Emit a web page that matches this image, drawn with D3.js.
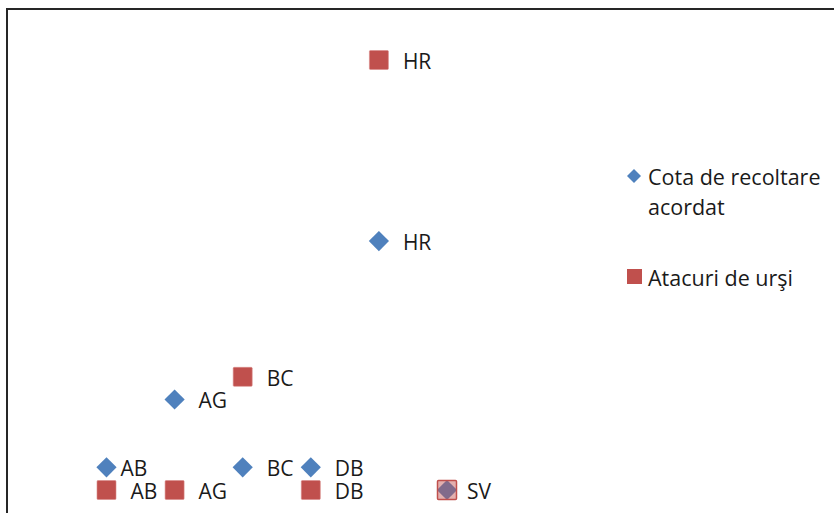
<!DOCTYPE html>
<html>
<head>
<meta charset="utf-8">
<title>Cota de recoltare / Atacuri de urşi</title>
<script src="https://d3js.org/d3.v7.min.js"></script>
<style>
  body { margin: 0; background: #fff; }
  text { font-family: "Open Sans", "Noto Sans", sans-serif; fill: #1a1a1a; }
</style>
</head>
<body>
<script>
// judete (categorii pe axa x, 1..6)
const counties = ["AB", "AG", "BC", "DB", "HR", "SV"];
// valori (unitati relative)
const cotaRecoltare = [1, 4, 1, 1, 11, 0];
const atacuriUrsi   = [0, 0, 5, 0, 19, 0];
const seriesNames = ["Cota de recoltare acordat", "Atacuri de urşi"];

const width = 834, height = 513;
const blue = "#4f81bd", red = "#c0504d";

const svg = d3.select("body").append("svg")
    .attr("width", width)
    .attr("height", height);

// chenarul graficului (taiat in dreapta si jos)
svg.append("rect")
    .attr("x", 7).attr("y", 9)
    .attr("width", 900).attr("height", 600)
    .attr("fill", "none")
    .attr("stroke", "#262626")
    .attr("stroke-width", 2);

const x = d3.scaleLinear().domain([1, 6]).range([106.5, 447]);
const y = d3.scaleLinear().domain([0, 19]).range([490, 60]);

const blueData = counties.map((c, i) => ({name: c, i: i + 1, v: cotaRecoltare[i]}));
const redData = counties.map((c, i) => ({name: c, i: i + 1, v: atacuriUrsi[i]}));

const diamond = d3.symbol().type(d3.symbolDiamond2).size(260);

// seria 1 - romburi albastre
svg.append("g").selectAll("path")
    .data(blueData)
    .join("path")
    .attr("d", diamond)
    .attr("transform", d => `translate(${x(d.i)},${y(d.v)})`)
    .attr("fill", blue);

// seria 2 - patrate rosii (SV e selectat / transparent)
const sq = 19;
svg.append("g").selectAll("rect")
    .data(redData)
    .join("rect")
    .attr("x", d => x(d.i) - sq / 2)
    .attr("y", d => y(d.v) - sq / 2)
    .attr("width", sq).attr("height", sq)
    .attr("rx", 1)
    .attr("fill", red)
    .attr("fill-opacity", d => d.name === "SV" ? 0.45 : 1)
    .attr("stroke", d => d.name === "SV" ? red : "#d98a88")
    .attr("stroke-width", d => d.name === "SV" ? 1.5 : 0.6);

// etichete (cand punctele coincid, se vede o singura eticheta)
const nudge = {"blue-AB": -10, "red-SV": -4};
function labels(data, key) {
    svg.append("g").selectAll("text")
        .data(data)
        .join("text")
        .attr("x", d => x(d.i) + 24 + (nudge[key + "-" + d.name] || 0))
        .attr("y", d => y(d.v) + 1)
        .attr("dominant-baseline", "central")
        .style("font-size", "21px")
        .text(d => d.name);
}
labels(blueData.filter((d, i) => d.v !== redData[i].v), "blue");
labels(redData, "red");

// legenda
const lg = svg.append("g");
lg.append("path")
    .attr("d", d3.symbol().type(d3.symbolDiamond2).size(125))
    .attr("transform", "translate(634,176)")
    .attr("fill", blue);
lg.append("text")
    .attr("x", 648).attr("y", 176)
    .attr("dominant-baseline", "central")
    .style("font-size", "21.5px")
    .text("Cota de recoltare");
lg.append("text")
    .attr("x", 648).attr("y", 206)
    .attr("dominant-baseline", "central")
    .style("font-size", "21.5px")
    .text("acordat");
lg.append("rect")
    .attr("x", 627).attr("y", 269)
    .attr("width", 15).attr("height", 15)
    .attr("fill", red);
lg.append("text")
    .attr("x", 648).attr("y", 277)
    .attr("dominant-baseline", "central")
    .style("font-size", "21.5px")
    .text(seriesNames[1]);
</script>
</body>
</html>
